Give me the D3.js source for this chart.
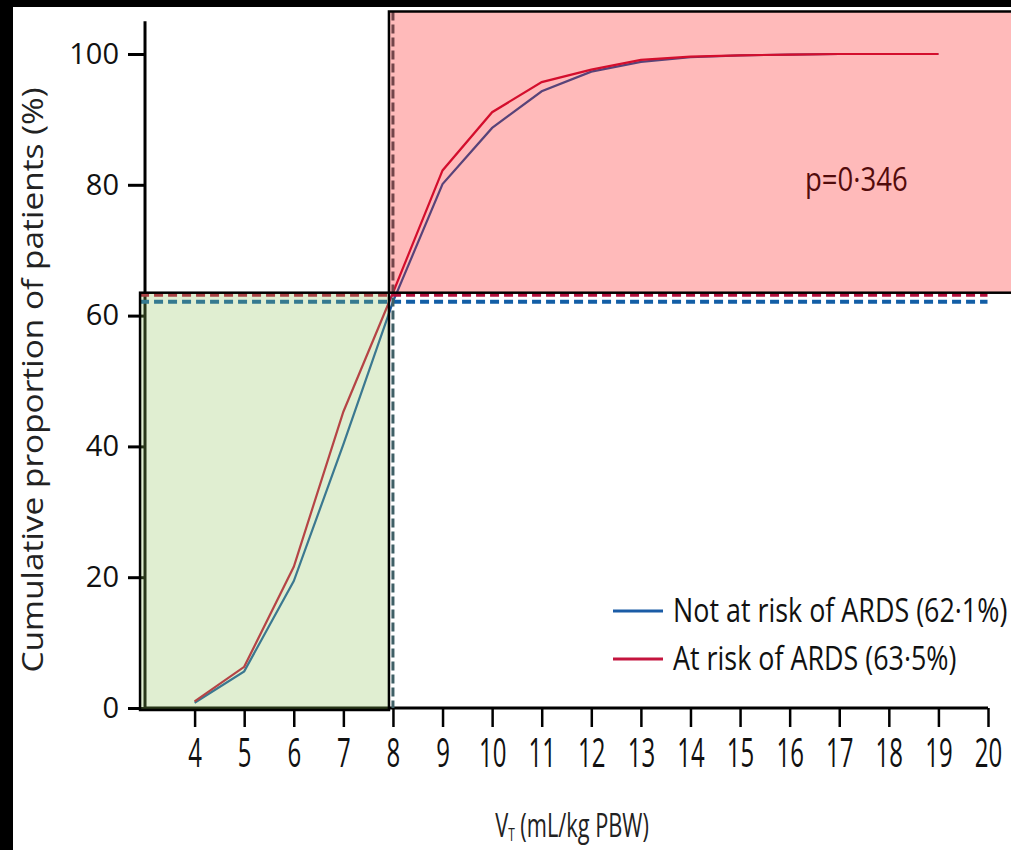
<!DOCTYPE html>
<html>
<head>
  <meta charset="UTF-8">
  <script src="https://d3js.org/d3.v7.min.js"></script>
  <style>
    body { margin: 0; background: #000; }
    text { font-family: "Open Sans", "Noto Sans", sans-serif; }
  </style>
</head>
<body>
<div id="my_dataviz"></div>
<script>

  // tidal volume (mL/kg PBW) and cumulative share of patients (%)
  var vt = [4, 5, 6, 7, 8, 9, 10, 11, 12, 13, 14, 15, 16, 17, 18, 19];
  var notAtRisk = [0.8, 5.6, 19.4, 40.3, 62.1, 80.1, 88.7, 94.3, 97.3, 98.8, 99.5, 99.8, 99.9, 100, 100, 100];
  var atRisk = [1.0, 6.3, 21.6, 45.3, 63.5, 82.2, 91.1, 95.7, 97.6, 99.1, 99.6, 99.8, 99.9, 100, 100, 100];

  var xTickValues = [4, 5, 6, 7, 8, 9, 10, 11, 12, 13, 14, 15, 16, 17, 18, 19, 20];
  var yTickValues = [0, 20, 40, 60, 80, 100];

  // protective ventilation cut-off and share of patients below it
  var cutoff = 8;
  var notAtRiskBelow = 62.1;
  var atRiskBelow = 63.5;

  var legendLabels = ["Not at risk of ARDS (62·1%)", "At risk of ARDS (63·5%)"];
  var pValueLabel = "p=0·346";

  var blue = "#1b5ca6";
  var red = "#c4143e";

  var width = 1011, height = 850;

  var svg = d3.select("#my_dataviz").append("svg")
    .attr("width", width)
    .attr("height", height)
    .style("display", "block");

  // black frame around the white plotting page
  svg.append("rect").attr("width", width).attr("height", height).attr("fill", "#000");
  svg.append("rect").attr("x", 13).attr("y", 7)
    .attr("width", width - 13).attr("height", height - 7).attr("fill", "#fff");

  var x = d3.scaleLinear().domain([4, 20]).range([194.6, 988]);
  var y = d3.scaleLinear().domain([0, 100]).range([708, 54]);

  // x axis
  svg.append("line")
    .attr("x1", x(3)).attr("x2", x(20))
    .attr("y1", y(0)).attr("y2", y(0))
    .attr("stroke", "#000").attr("stroke-width", 3);

  var xAxis = svg.append("g")
    .attr("transform", "translate(0," + y(0) + ")")
    .call(d3.axisBottom(x).tickValues(xTickValues).tickSize(19).tickPadding(12));
  xAxis.select(".domain").remove();
  xAxis.selectAll(".tick line").attr("stroke", "#000").attr("stroke-width", 2.5);
  // tall, narrow tick numbers
  xAxis.selectAll(".tick text")
    .style("font-size", "40px")
    .attr("fill", "#111")
    .attr("transform", "scale(0.6,1)");

  // y axis
  svg.append("line")
    .attr("x1", x(3)).attr("x2", x(3))
    .attr("y1", y(0) + 1.5).attr("y2", y(105))
    .attr("stroke", "#000").attr("stroke-width", 3);

  var yAxis = svg.append("g")
    .attr("transform", "translate(" + x(3) + ",0)")
    .call(d3.axisLeft(y).tickValues(yTickValues).tickSize(17).tickPadding(9));
  yAxis.select(".domain").remove();
  yAxis.selectAll(".tick line").attr("stroke", "#000").attr("stroke-width", 3);
  yAxis.selectAll(".tick text")
    .style("font-size", "29px")
    .attr("fill", "#111");

  // y axis title
  svg.append("text")
    .attr("transform", "translate(43,380) rotate(-90)")
    .attr("text-anchor", "middle")
    .attr("textLength", 585)
    .attr("lengthAdjust", "spacingAndGlyphs")
    .style("font-size", "30px")
    .attr("fill", "#222")
    .text("Cumulative proportion of patients (%)");

  // x axis title with subscript, narrowed as a whole
  var xTitle = svg.append("g")
    .attr("transform", "translate(572,837) scale(0.66,1)")
    .append("text")
    .attr("text-anchor", "middle")
    .style("font-size", "33px")
    .attr("fill", "#222");
  xTitle.append("tspan").text("V");
  xTitle.append("tspan").attr("dy", 4).style("font-size", "18px").text("T");
  xTitle.append("tspan").attr("dy", -4).text(" (mL/kg PBW)");

  // p value
  svg.append("g")
    .attr("transform", "translate(805,191) scale(0.86,1)")
    .append("text")
    .style("font-size", "32px")
    .attr("fill", "#111")
    .text(pValueLabel);

  // cumulative curves
  var line = d3.line()
    .x(function (d) { return x(d[0]); })
    .y(function (d) { return y(d[1]); });

  svg.append("path")
    .datum(vt.map(function (v, i) { return [v, notAtRisk[i]]; }))
    .attr("d", line)
    .attr("fill", "none")
    .attr("stroke", blue)
    .attr("stroke-width", 2.2);

  svg.append("path")
    .datum(vt.map(function (v, i) { return [v, atRisk[i]]; }))
    .attr("d", line)
    .attr("fill", "none")
    .attr("stroke", red)
    .attr("stroke-width", 2.2);

  // reference lines at the cut-off
  svg.append("line")
    .attr("x1", x(2.9)).attr("x2", x(19.99))
    .attr("y1", y(atRiskBelow) + 2).attr("y2", y(atRiskBelow) + 2)
    .attr("stroke", "#b3113c").attr("stroke-width", 4)
    .attr("stroke-dasharray", "9,5");

  svg.append("line")
    .attr("x1", x(2.9)).attr("x2", x(19.99))
    .attr("y1", y(notAtRiskBelow)).attr("y2", y(notAtRiskBelow))
    .attr("stroke", "#125ea6").attr("stroke-width", 4)
    .attr("stroke-dasharray", "9,5");

  svg.append("line")
    .attr("x1", x(cutoff)).attr("x2", x(cutoff))
    .attr("y1", y(106.5)).attr("y2", y(0))
    .attr("stroke", "#3f5f66").attr("stroke-width", 3)
    .attr("stroke-dasharray", "9,4");

  // shaded regions: above cut-off (pink) and below (green)
  svg.append("rect")
    .attr("x", x(cutoff) - 4)
    .attr("y", y(106.5))
    .attr("width", width + 20 - x(cutoff))
    .attr("height", y(atRiskBelow) - y(106.5))
    .attr("fill", "#ff0000")
    .attr("fill-opacity", 0.27)
    .attr("stroke", "#000")
    .attr("stroke-width", 2.5);

  svg.append("rect")
    .attr("x", x(2.9))
    .attr("y", y(atRiskBelow))
    .attr("width", x(cutoff) - 4 - x(2.9))
    .attr("height", y(0) + 2 - y(atRiskBelow))
    .attr("fill", "#8fc35a")
    .attr("fill-opacity", 0.28)
    .attr("stroke", "#000")
    .attr("stroke-width", 2.5);

  // legend, text narrowed horizontally
  var legend = svg.append("g").attr("transform", "translate(613,611)");
  [blue, red].forEach(function (c, i) {
    legend.append("line")
      .attr("x1", 0).attr("x2", 50)
      .attr("y1", i * 48).attr("y2", i * 48)
      .attr("stroke", c).attr("stroke-width", 3);
    legend.append("g")
      .attr("transform", "translate(60," + (i * 48 + 11) + ") scale(0.84,1)")
      .append("text")
      .style("font-size", "32px")
      .attr("fill", "#111")
      .text(legendLabels[i]);
  });

</script>
</body>
</html>
